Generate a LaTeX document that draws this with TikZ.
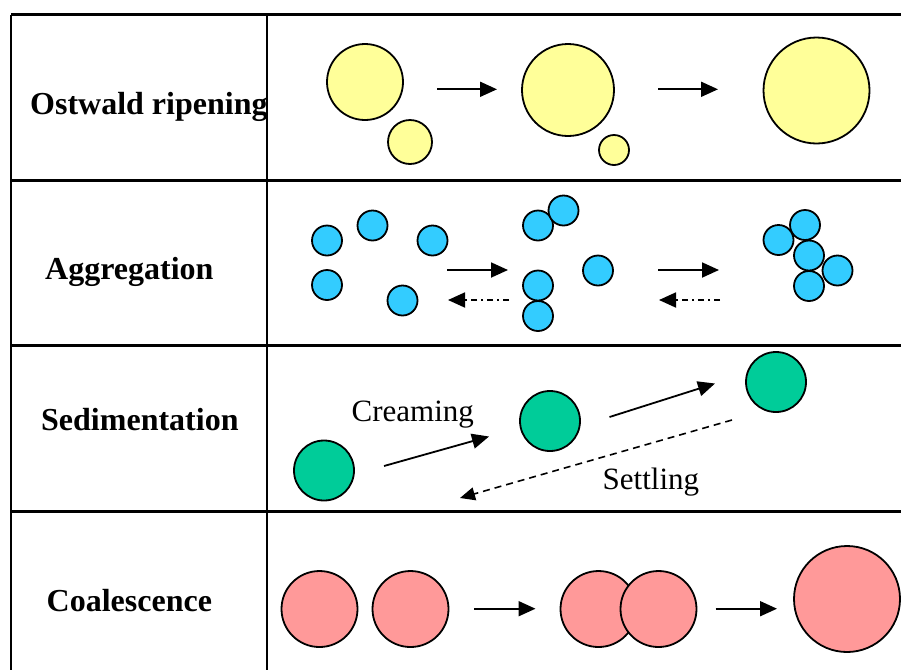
\documentclass[tikz,border=0pt]{standalone}
\usepackage{fontspec}
\setmainfont{Liberation Serif}
\usetikzlibrary{arrows.meta}
\definecolor{oyellow}{HTML}{FFFF99}
\definecolor{oblue}{HTML}{33CCFF}
\definecolor{ogreen}{HTML}{00CC99}
\definecolor{opink}{HTML}{FF9999}
\tikzset{
  grid/.style={line width=2.2pt, black},
  rowlabel/.style={font=\fontsize{32}{36}\selectfont\bfseries, inner sep=0pt, anchor=base west},
  plainlabel/.style={font=\fontsize{31}{35}\selectfont, inner sep=0pt, anchor=base west},
  drop/.style={circle, draw=black, line width=1.8pt, inner sep=0pt, minimum size=#1},
  ydrop/.style={drop=#1, fill=oyellow},
  bdrop/.style={drop=30pt, fill=oblue},
  gdrop/.style={drop=60pt, fill=ogreen},
  pdrop/.style={drop=#1, fill=opink},
  fwd/.style={line width=1.8pt, -{Triangle[length=17pt,width=15pt]}},
  back/.style={line width=1.8pt, dash pattern=on 6pt off 4pt on 2pt off 4pt, -{Triangle[length=17pt,width=15pt]}},
  settle/.style={line width=1.6pt, dash pattern=on 7pt off 5pt, -{Triangle[length=15pt,width=13pt]}},
}
\begin{document}
\begin{tikzpicture}[x=1pt,y=-1pt]
\useasboundingbox (0,0) rectangle (901,670);
\fill[white] (0,0) rectangle (901,670);

% row labels
\node[rowlabel] (l1) at (30,114.3) {Ostwald ripening};
\node[rowlabel] (l2) at (45,279) {Aggregation};
\node[rowlabel] (l3) at (41,430) {Sedimentation};
\node[rowlabel] (l4) at (46.5,611) {Coalescence};

% table
\draw[grid] (11,14.5) -- (901,14.5);
\draw[grid] (11,180.5) -- (901,180.5);
\draw[grid] (11,345.5) -- (901,345.5);
\draw[grid] (11,511.5) -- (901,511.5);
\draw[grid] (11,14.5) -- (11,670);
\draw[grid] (267,14.5) -- (267,670);

% Ostwald ripening
\node[ydrop=76pt] (o1) at (365,82) {};
\node[ydrop=44pt] (o2) at (410,142) {};
\node[ydrop=92pt] (o3) at (568,90) {};
\node[ydrop=30pt] (o4) at (614,150) {};
\node[ydrop=106pt] (o5) at (816.5,90.5) {};
\coordinate (oa1s) at (437,89.3);
\coordinate (oa1e) at (497,89.3);
\coordinate (oa2s) at (658,89.3);
\coordinate (oa2e) at (718,89.3);
\draw[fwd] (oa1s) -- (oa1e);
\draw[fwd] (oa2s) -- (oa2e);

% Aggregation
\node[bdrop] (a1) at (327,240.5) {};
\node[bdrop] (a2) at (372.5,225.5) {};
\node[bdrop] (a3) at (432.5,240.5) {};
\node[bdrop] (a4) at (327,285) {};
\node[bdrop] (a5) at (402.5,300.5) {};
\node[bdrop] (a6) at (538,225.5) {};
\node[bdrop] (a7) at (563.5,210.5) {};
\node[bdrop] (a8) at (598,270.5) {};
\node[bdrop] (a9) at (538,285.5) {};
\node[bdrop] (a10) at (538,316) {};
\node[bdrop] (a11) at (778.5,240) {};
\node[bdrop] (a12) at (805,225) {};
\node[bdrop] (a13) at (809,255.5) {};
\node[bdrop] (a14) at (837.5,270.5) {};
\node[bdrop] (a15) at (809,286) {};
\coordinate (ga1s) at (447,270);
\coordinate (ga1e) at (508,270);
\coordinate (gb1s) at (509,300);
\coordinate (gb1e) at (448,300);
\coordinate (ga2s) at (658,270);
\coordinate (ga2e) at (719,270);
\coordinate (gb2s) at (720,300);
\coordinate (gb2e) at (659,300);
\draw[fwd] (ga1s) -- (ga1e);
\draw[back] (gb1s) -- (gb1e);
\draw[fwd] (ga2s) -- (ga2e);
\draw[back] (gb2s) -- (gb2e);

% Sedimentation
\node[gdrop] (s1) at (324,470.5) {};
\node[gdrop] (s2) at (550,421) {};
\node[gdrop] (s3) at (776,382) {};
\coordinate (sa1s) at (384,466);
\coordinate (sa1e) at (489,436.5);
\coordinate (sa2s) at (609.5,417);
\coordinate (sa2e) at (715,383.5);
\coordinate (sds) at (732,420);
\coordinate (sde) at (460,498);
\draw[fwd] (sa1s) -- (sa1e);
\draw[fwd] (sa2s) -- (sa2e);
\draw[settle] (sds) -- (sde);
\node[plainlabel] (cream) at (351.5,421.5) {Creaming};
\node[plainlabel] (settl) at (602.5,489) {Settling};

% Coalescence
\node[pdrop=76pt] (p1) at (319.5,609) {};
\node[pdrop=76pt] (p2) at (410.5,609) {};
\node[pdrop=76pt] (p3) at (598.5,609) {};
\node[pdrop=76pt] (p4) at (658.5,609) {};
\node[pdrop=106pt] (p5) at (847,599) {};
\coordinate (ca1s) at (474,608.7);
\coordinate (ca1e) at (535.5,608.7);
\coordinate (ca2s) at (715.5,608.7);
\coordinate (ca2e) at (777,608.7);
\draw[fwd] (ca1s) -- (ca1e);
\draw[fwd] (ca2s) -- (ca2e);
\end{tikzpicture}
\end{document}
